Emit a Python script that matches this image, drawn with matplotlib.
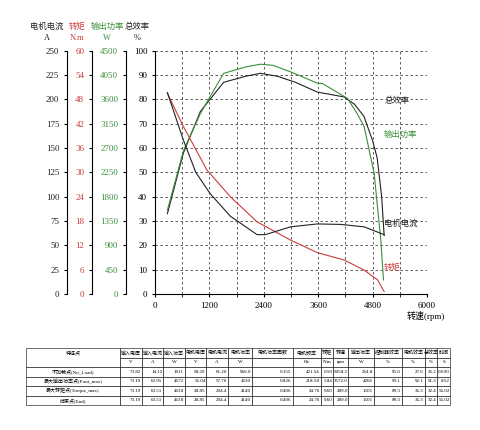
import matplotlib
matplotlib.use("Agg")
import matplotlib.pyplot as plt
from matplotlib.ticker import MultipleLocator

plt.rcParams['font.family'] = ['Liberation Serif', 'Noto Sans CJK SC']

GREEN = '#3a8f3a'; RED = '#cc3a3a'; BLACK = '#222222'

# Efficiency (%)
eff_rpm = [273, 627, 1000, 1513, 2000, 2325, 2700, 3100, 3580, 4170, 4400, 4610, 4800, 4900, 5000, 5055]
eff_val = [33, 58, 75, 87, 89.5, 90.7, 89.5, 87, 83, 81, 78, 73, 63, 56, 40, 24]
# Output power (W)
pw_rpm = [273, 627, 996, 1513, 2000, 2325, 2600, 2989, 3580, 3700, 4243, 4450, 4612, 4834, 4982, 5040]
pw_val = [1550, 2650, 3330, 4080, 4200, 4250, 4230, 4110, 3900, 3890, 3620, 3350, 3100, 2230, 990, 260]
# Motor current (A)
cur_rpm = [273, 627, 900, 1218, 1661, 2251, 2435, 2989, 3580, 4100, 4612, 5055]
cur_val = [207, 158, 125, 103, 80, 61, 61, 69, 72, 71.5, 69, 61]
# Torque (N.m)
tq_rpm = [273, 627, 1144, 1661, 2251, 2989, 3580, 4170, 4612, 4908, 5055]
tq_val = [49.5, 41.3, 30.6, 24.0, 17.8, 13.3, 10.2, 8.4, 5.9, 3.5, 0.6]

columns = ['特征点', '输入电压', '输入电流', '输入功率', '电机电压', '电机电流', '电机功率',
           '电机功率因数', '电机频率', '转矩', '转速', '输出功率', '控制器效率', '电机效率', '总效率', '时间']
units = ['', 'V', 'A', 'W', 'V', 'A', 'W', '', 'Hz', 'N.m', 'rpm', 'W', '%', '%', '%', 'S']
rows = [
    ['不加载点(No_Load)', '73.82', '14.12', '1011', '58.20', '61.20', '960.0', '0.155', '421.54', '0.50', '5058.2', '264.8', '95.0', '27.6', '26.2', '0.000'],
    ['最大输出功率点(Pout_max)', '73.19', '63.95', '4672', '56.04', '57.70', '4630', '0.826', '218.58', '5.84', '3572.0', '4266', '99.1', '92.1', '91.3', '8.52'],
    ['最大转矩点(Torque_max)', '73.19', '63.51', '4638', '28.85', '204.4', '4140', '0.406', '24.76', '9.60', '289.0', '1501', '89.3', '36.3', '32.4', '56.02'],
    ['结束点(End)', '73.19', '63.51', '4638', '28.85', '204.4', '4140', '0.406', '24.76', '9.60', '289.0', '1501', '89.3', '36.3', '32.4', '56.02'],
]

fig = plt.figure(figsize=(4.8, 4.3), dpi=100)
L, R, B, T = 155/480, 427/480, 1-294/430, 1-50.7/430
ax = fig.add_axes([L, B, R-L, T-B])
ax.set_xlim(0, 6000); ax.set_ylim(0, 100)
ax.xaxis.set_major_locator(MultipleLocator(1200))
ax.xaxis.set_minor_locator(MultipleLocator(600))
ax.yaxis.set_major_locator(MultipleLocator(10))
ax.grid(True, which='both', axis='x', ls=(0, (3, 3)), color='#444', lw=0.6)
ax.grid(True, which='major', axis='y', ls=(0, (3, 3)), color='#444', lw=0.6)
for s in ['top', 'right']:
    ax.spines[s].set_visible(False)
ax.tick_params(labelsize=6.5, length=2)
ax.plot(eff_rpm, eff_val, color=BLACK, lw=0.8)
ax.text(5055, 79.5, '总效率', fontsize=6, color=BLACK, va='center')
ax.text(5055, 65.6, '输出功率', fontsize=6, color=GREEN, va='center')
ax.text(5055, 29, '电机电流', fontsize=6, color=BLACK, va='center')
ax.text(5055, 10.8, '转矩', fontsize=6, color=RED, va='center')
fig.text(426/480, 1-316/430, '转速(rpm)', fontsize=6.5, ha='center', va='center')

def side(off, lim, step, color, x, y, label):
    a = ax.twinx()
    a.set_ylim(0, lim)
    a.yaxis.set_major_locator(MultipleLocator(step))
    a.yaxis.tick_left(); a.yaxis.set_label_position('left')
    for s in ['top', 'right', 'bottom']:
        a.spines[s].set_visible(False)
    a.spines['left'].set_position(('axes', off))
    a.tick_params(labelsize=6.5, length=2, labelcolor=color)
    a.plot(x, y, color=label, lw=0.8)
    return a

side(-0.107, 4500, 450, GREEN, pw_rpm, pw_val, GREEN)
side(-0.232, 60, 6, RED, tq_rpm, tq_val, RED)
side(-0.324, 250, 25, BLACK, cur_rpm, cur_val, BLACK)

heads = [(47, '电机电流', 'A', BLACK), (77, '转矩', 'N.m', RED), (107, '输出功率', 'W', GREEN), (137, '总效率', '%', BLACK)]
for xp, h, u, c in heads:
    fig.text(xp/480, 1-27/430, h, fontsize=6, color=c, ha='center', va='center')
    fig.text(xp/480, 1-38/430, u, fontsize=6, color=c, ha='center', va='center')

axt = fig.add_axes([26/480, 1-405/430, 424/480, 57/430])
axt.axis('off')
cell = [columns, units] + rows
widths = [74, 17, 17, 17, 17, 17, 19, 32, 22, 10, 12, 20, 22, 18, 10, 10]
tw = sum(widths)
tab = axt.table(cellText=cell, colWidths=[w/tw for w in widths], bbox=[0, 0, 1, 1], cellLoc='right')
tab.auto_set_font_size(False)
for (r, c), cl in tab.get_celld().items():
    cl.set_fontsize(3.6)
    cl.set_linewidth(0.4)
    cl.PAD = 0.03
    if r < 2 or c == 0:
        cl._loc = 'center'
        cl.get_text().set_ha('center')
    if c == 0 and r == 0:
        cl.visible_edges = 'TLR'
    if c == 0 and r == 1:
        cl.visible_edges = 'BLR'

fig.savefig('out.png', dpi=100)
